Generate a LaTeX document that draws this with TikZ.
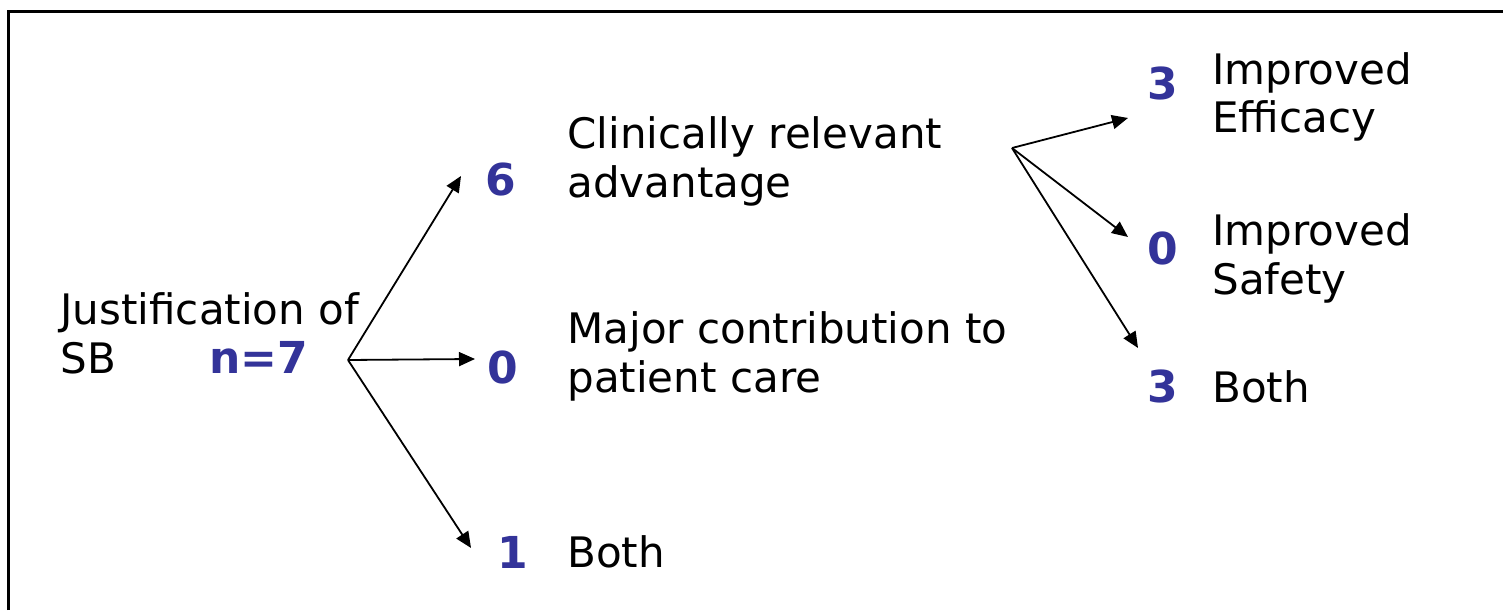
\documentclass[tikz,border=0pt]{standalone}
\usepackage{fontspec}
\setmainfont{DejaVu Sans}
\usetikzlibrary{arrows.meta,positioning,calc}
\definecolor{numblue}{HTML}{333399}

\tikzset{
  lbl/.style={inner sep=0pt, anchor=base west, align=left,
    font=\fontsize{21}{24.5}\selectfont},
  num/.style={inner sep=0pt, anchor=base west, text=numblue,
    font=\fontsize{22}{24}\selectfont\bfseries},
  branch/.style={-{Triangle[length=8pt,width=7pt]}, line width=0.9pt},
}

\begin{document}
\begin{tikzpicture}[x=0.5pt, y=-0.5pt]
  \useasboundingbox (0,0) rectangle (1503,610);
  % frame
  \draw[line width=1.5pt] (8,610) -- (8,12) -- (1503,12);

  % root (base = last line)
  \node[lbl] (just) at (60,373) {Justification of\\SB};
  \node[num] (nseven) at (209,373) {n=7};
  \coordinate (rootfork) at (348,360);

  % first level
  \node[num] (six) at (485,195) {6};
  \node[num] (zeroa) at (487,383) {0};
  \node[num] (one) at (497,568) {1};
  \node[lbl] (clin) at (567,197) {Clinically relevant\\advantage};
  \node[lbl] (major) at (567,392) {Major contribution to\\patient care};
  \node[lbl] (botha) at (567,567) {Both};

  % second level
  \coordinate (advfork) at (1012,148);
  \node[num] (threea) at (1147,100) {3};
  \node[num] (zerob) at (1147,264) {0};
  \node[num] (threeb) at (1147,402) {3};
  \node[lbl] (eff) at (1212,133) {Improved\\Efficacy};
  \node[lbl] (saf) at (1212,294) {Improved\\Safety};
  \node[lbl] (bothb) at (1212,402) {Both};

  % branches
  \draw[branch] (rootfork) -- ([xshift=-12pt,yshift=1.5pt]six.west);
  \draw[branch] (rootfork) -- ([xshift=-6pt,yshift=4pt]zeroa.west);
  \draw[branch] (rootfork) -- ([xshift=-13pt,yshift=2pt]one.west);
  \draw[branch] (advfork) -- ([xshift=-9.5pt,yshift=-17pt]threea.west);
  \draw[branch] (advfork) -- ([xshift=-9.5pt,yshift=5.5pt]zerob.west);
  \draw[branch] (advfork) -- ([xshift=-4.5pt,yshift=19pt]threeb.west);
\end{tikzpicture}
\end{document}
